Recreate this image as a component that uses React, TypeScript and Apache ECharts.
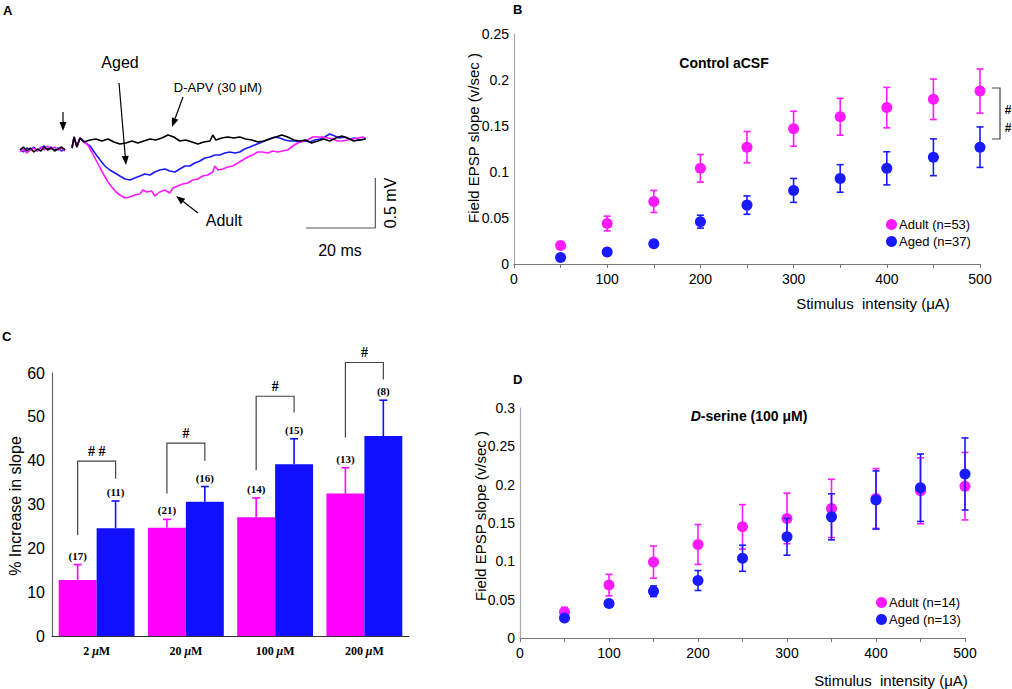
import React, { useEffect, useRef } from "react";
import * as echarts from "echarts";

// ---------- Panel A: field EPSP traces (time ms, voltage mV) ----------
const preBlack: number[][] = [[0,-0.08],[1,-0.05],[2,-0.09],[3,-0.06],[4,-0.1],[5,-0.07],[6,-0.09],[7,-0.05],[8,-0.08],[9,-0.06],[10,-0.09],[11,-0.07],[12,-0.05],[13,-0.08]];
const preBlue: number[][] = [[0,-0.07],[1,-0.1],[2,-0.06],[3,-0.08],[4,-0.05],[5,-0.09],[6,-0.06],[7,-0.04],[8,-0.07],[9,-0.05],[10,-0.08],[11,-0.06],[12,-0.09],[13,-0.07]];
const preAdult: number[][] = [[0,-0.1],[1,-0.07],[2,-0.11],[3,-0.08],[4,-0.06],[5,-0.09],[6,-0.05],[7,-0.08],[8,-0.04],[9,-0.07],[10,-0.05],[11,-0.08],[12,-0.06],[13,-0.09]];

const apvTrace: number[][] = [[15,-0.06],[15.6,0.05],[16.4,-0.05],[17.3,0.04],[18.4,0],[20.2,0.02],[21.9,0.03],[23.6,0.01],[25.4,0.03],[27.1,0],[28.8,-0.02],[30.5,-0.01],[32.3,0.01],[34,-0.01],[35.7,0.01],[37.5,0.03],[39.2,0.02],[40.9,0.04],[42.7,0.07],[44.4,0.05],[46.1,0.01],[47.8,0.02],[49.6,0],[51.3,-0.02],[53,0],[54.8,0.01],[55.6,0.07],[56.5,0.02],[58.2,0.04],[59.9,0.05],[61.7,0.04],[63.4,0.05],[65.1,0.03],[66.9,0.02],[68.6,0],[70.3,0.01],[72,0.03],[73.8,0.05],[75.5,0.07],[77.2,0.05],[79,0.02],[80.7,0.01],[82.4,0.02],[84.1,-0.01],[85.9,0.01],[87.6,0.03],[89.3,0.01],[91.1,0.04],[92.8,0.06],[94.5,0.04],[96.3,0.01],[98,0.02],[99.7,0.03]];
const agedTrace: number[][] = [[15,-0.06],[15.6,0.05],[16.4,-0.05],[17.3,0.04],[18.4,0.01],[19.3,-0.02],[20.2,-0.04],[21.6,-0.11],[23.1,-0.18],[24.5,-0.24],[25.9,-0.28],[27.4,-0.31],[28.8,-0.34],[30.3,-0.37],[31.7,-0.38],[33.1,-0.36],[34.6,-0.34],[36,-0.32],[37.5,-0.33],[38.9,-0.3],[40.3,-0.28],[41.8,-0.27],[43.2,-0.29],[44.7,-0.3],[46.1,-0.27],[47.6,-0.24],[49,-0.24],[50.4,-0.21],[51.9,-0.19],[53.3,-0.16],[54.8,-0.15],[56.2,-0.13],[57.6,-0.13],[59.1,-0.11],[60.5,-0.1],[62,-0.11],[63.4,-0.1],[64.8,-0.07],[66.3,-0.05],[67.7,-0.03],[69.2,-0.01],[70.6,0.01],[72,0.03],[73.5,0.05],[74.9,0.04],[76.4,0.02],[77.8,0.01],[79.3,0.01],[80.7,0],[82.1,0.01],[83.6,0],[85,0.02],[86.5,0.03],[87.9,0.05],[89.3,0.08],[90.8,0.06],[92.2,0.04],[93.7,0.05],[95.1,0.03],[96.5,0.04],[98,0.02],[99.7,0.03]];
const adultTrace: number[][] = [[15,-0.06],[15.6,0.05],[16.4,-0.05],[17.3,0.04],[18.4,0],[19.6,-0.03],[20.7,-0.1],[21.9,-0.18],[23.1,-0.26],[24.2,-0.33],[25.4,-0.4],[26.5,-0.45],[27.7,-0.5],[28.8,-0.53],[30.3,-0.56],[31.7,-0.55],[33.1,-0.53],[34.6,-0.52],[35.4,-0.48],[36.6,-0.5],[38,-0.49],[38.9,-0.54],[40.3,-0.5],[41.8,-0.48],[43.2,-0.51],[44.1,-0.46],[45.5,-0.44],[46.9,-0.42],[48.4,-0.41],[49.8,-0.38],[51.3,-0.37],[52.7,-0.34],[54.2,-0.33],[55.6,-0.3],[56.2,-0.24],[57.1,-0.28],[58.5,-0.27],[59.9,-0.25],[61.4,-0.24],[62.8,-0.21],[64.3,-0.18],[65.7,-0.15],[67.1,-0.13],[68.6,-0.1],[70,-0.1],[71.5,-0.11],[72.9,-0.09],[74.4,-0.1],[75.8,-0.09],[77.2,-0.08],[78.7,-0.04],[80.1,-0.01],[81.6,0.01],[83,0.02],[84.4,0.05],[85.9,0.05],[87.3,0.05],[88.8,0.04],[90.2,0.03],[91.6,0.01],[93.1,0.01],[94.5,0.02],[96,0.03],[97.4,0.04],[98.8,0.05],[99.7,0.04]];
// scale bar: 20 ms horizontal, 0.5 mV vertical
const scaleBar: number[][] = [[82.5,-0.86],[102.5,-0.86],[102.5,-0.36]];

// ---------- Panels B & D: input-output curves ----------
const stimulus = [50, 100, 150, 200, 250, 300, 350, 400, 450, 500];
const ctrlAdultMean = [0.020, 0.044, 0.068, 0.104, 0.127, 0.147, 0.160, 0.170, 0.179, 0.188];
const ctrlAdultSem = [0.003, 0.008, 0.012, 0.015, 0.017, 0.019, 0.020, 0.022, 0.022, 0.024];
const ctrlAgedMean = [0.007, 0.013, 0.022, 0.046, 0.064, 0.080, 0.093, 0.104, 0.116, 0.127];
const ctrlAgedSem = [0.002, 0.002, 0.002, 0.007, 0.010, 0.013, 0.015, 0.018, 0.020, 0.022];
const dserAdultMean = [0.034, 0.069, 0.099, 0.122, 0.145, 0.156, 0.169, 0.182, 0.192, 0.198];
const dserAdultSem = [0.006, 0.014, 0.021, 0.026, 0.029, 0.033, 0.038, 0.039, 0.043, 0.044];
const dserAgedMean = [0.026, 0.045, 0.061, 0.075, 0.104, 0.132, 0.158, 0.180, 0.196, 0.214];
const dserAgedSem = [0.003, 0.003, 0.007, 0.013, 0.017, 0.024, 0.030, 0.038, 0.044, 0.047];

// ---------- Panel C: % increase in slope ----------
const concentrations = ["2 μM", "20 μM", "100 μM", "200 μM"];
const pctAdult = [12.8, 24.7, 27.1, 32.5];
const pctAdultErr = [3.5, 1.9, 4.4, 5.9];
const pctAged = [24.6, 30.6, 39.2, 45.6];
const pctAgedErr = [6.2, 3.5, 5.8, 8.2];
const nAdult = ["(17)", "(21)", "(14)", "(13)"];
const nAged = ["(11)", "(16)", "(15)", "(8)"];
const bracketLeftLow = [23, 32.5, 37.8, 45.3];
const bracketTop = [39.9, 44, 54.7, 62.4];
const bracketRightLow = [35.9, 40, 51, 58.5];
const sigLabels = ["# #", "#", "#", "#"];

const MAG = "#ff1aff";
const BLU = "#1a1aff";
const SANS = 'Arial, "Liberation Sans", Helvetica, sans-serif';
const SERIF = '"Times New Roman", "Liberation Serif", serif';

function errRender(color: string) {
  return (params: any, api: any) => {
    const x = api.value(0), m = api.value(1), e = api.value(2);
    const t = api.coord([x, m + e]);
    const b = api.coord([x, m - e]);
    const st = { stroke: color, lineWidth: 1.6 };
    return {
      type: "group",
      children: [
        { type: "line", shape: { x1: t[0], y1: t[1], x2: b[0], y2: b[1] }, style: st },
        { type: "line", shape: { x1: t[0] - 3.5, y1: t[1], x2: t[0] + 3.5, y2: t[1] }, style: st },
        { type: "line", shape: { x1: b[0] - 3.5, y1: b[1], x2: b[0] + 3.5, y2: b[1] }, style: st },
      ],
    };
  };
}

function barErrRender(color: string, side: number, labels: string[]) {
  return (params: any, api: any) => {
    const idx = api.value(0), m = api.value(1), e = api.value(2);
    const band = api.size([1, 0])[0];
    const off = side * band * 0.2125;
    const base = api.coord([idx, m]);
    const top = api.coord([idx, m + e]);
    const x = base[0] + off;
    const st = { stroke: color, lineWidth: 1.6 };
    return {
      type: "group",
      children: [
        { type: "line", shape: { x1: x, y1: base[1], x2: x, y2: top[1] }, style: st },
        { type: "line", shape: { x1: x - 4, y1: top[1], x2: x + 4, y2: top[1] }, style: st },
        {
          type: "text",
          x, y: top[1] - 9,
          style: { text: labels[params.dataIndex], fontFamily: SERIF, fontWeight: "bold", fontSize: 11, fill: "#000", align: "center", verticalAlign: "middle" },
        },
      ],
    };
  };
}

function bracketRender(params: any, api: any) {
  const idx = api.value(0);
  const band = api.size([1, 0])[0];
  const c = api.coord([idx, api.value(2)]);
  const xl = c[0] - band * 0.2125;
  const xr = c[0] + band * 0.2125;
  const yl = api.coord([idx, api.value(1)])[1];
  const yt = c[1];
  const yr = api.coord([idx, api.value(3)])[1];
  return {
    type: "group",
    children: [
      { type: "polyline", shape: { points: [[xl, yl], [xl, yt], [xr, yt], [xr, yr]] }, style: { stroke: "#444", lineWidth: 1.2, fill: "none" } },
      { type: "text", x: (xl + xr) / 2, y: yt - 10, style: { text: sigLabels[params.dataIndex], fontFamily: SERIF, fontWeight: "bold", fontSize: 14, fill: "#000", align: "center", verticalAlign: "middle" } },
    ],
  };
}

function arrow(x1: number, y1: number, x2: number, y2: number, head = 9, half = 3.5) {
  const dx = x2 - x1, dy = y2 - y1;
  const L = Math.hypot(dx, dy);
  const ux = dx / L, uy = dy / L;
  const bx = x2 - ux * head, by = y2 - uy * head;
  return [
    { type: "line", shape: { x1, y1, x2: bx, y2: by }, style: { stroke: "#000", lineWidth: 1.2 } },
    { type: "polygon", shape: { points: [[x2, y2], [bx - uy * half, by + ux * half], [bx + uy * half, by - ux * half]] }, style: { fill: "#000" } },
  ];
}

function txt(text: string, x: number, y: number, size: number, opts: any = {}) {
  return {
    type: "text", x, y, rotation: opts.rotation || 0,
    style: {
      text, fontFamily: opts.family || SANS, fontSize: size, fontWeight: opts.weight || "normal",
      fill: "#000", align: opts.align || "center", verticalAlign: "middle", rich: opts.rich,
    },
  };
}

function ioAxes(gridIndex: number, ymax: number) {
  const xAxis = {
    type: "value", gridIndex, min: 0, max: 500, interval: 50,
    axisLine: { lineStyle: { color: "#777", width: 1.2 } },
    axisTick: { show: true, length: 4, lineStyle: { color: "#777" } },
    axisLabel: { color: "#000", fontFamily: SANS, fontSize: 14, margin: 8, formatter: (v: number) => (v % 100 === 0 ? String(v) : "") },
    splitLine: { show: false },
  };
  const yAxis = {
    type: "value", gridIndex, min: 0, max: ymax, interval: 0.05,
    axisLine: { show: true, lineStyle: { color: "#aaa", width: 1.2 } },
    axisTick: { show: false },
    axisLabel: { color: "#000", fontFamily: SANS, fontSize: 14, margin: 5 },
    splitLine: { show: false },
  };
  return { xAxis, yAxis };
}

function ioSeries(axisIndex: number, names: string[], am: number[], ae: number[], gm: number[], ge: number[]) {
  const mk = (m: number[], e: number[]) => stimulus.map((s, i) => [s, m[i], e[i]]);
  return [
    { type: "custom", xAxisIndex: axisIndex, yAxisIndex: axisIndex, renderItem: errRender(MAG), data: mk(am, ae), z: 2, clip: false, silent: true },
    { type: "scatter", name: names[0], xAxisIndex: axisIndex, yAxisIndex: axisIndex, data: stimulus.map((s, i) => [s, am[i]]), symbolSize: 11, itemStyle: { color: MAG, opacity: 1 }, z: 3 },
    { type: "custom", xAxisIndex: axisIndex, yAxisIndex: axisIndex, renderItem: errRender(BLU), data: mk(gm, ge), z: 4, clip: false, silent: true },
    { type: "scatter", name: names[1], xAxisIndex: axisIndex, yAxisIndex: axisIndex, data: stimulus.map((s, i) => [s, gm[i]]), symbolSize: 11, itemStyle: { color: BLU, opacity: 1 }, z: 5 },
  ];
}

export default function App() {
  const ref = useRef<HTMLDivElement>(null);
  useEffect(() => {
    const chart = echarts.init(ref.current!, null, { renderer: "svg" });
    const b = ioAxes(1, 0.25);
    const d = ioAxes(3, 0.3);
    const lineA = (data: number[][], color: string, z: number) => ({
      type: "line", xAxisIndex: 0, yAxisIndex: 0, data, showSymbol: false, symbol: "none",
      lineStyle: { color, width: 1.6 }, z, silent: true,
    });
    const option: any = {
      animation: false,
      backgroundColor: "#fff",
      grid: [
        { left: 20, top: 107, width: 364, height: 125 },
        { left: 514, top: 34, width: 466, height: 230 },
        { left: 52, top: 373, width: 357, height: 263 },
        { left: 520, top: 408, width: 445, height: 230 },
      ],
      xAxis: [
        { type: "value", gridIndex: 0, min: 0, max: 105, show: false },
        b.xAxis,
        {
          type: "category", gridIndex: 2, data: concentrations,
          axisLine: { lineStyle: { color: "#333", width: 1.2 } },
          axisTick: { show: false },
          axisLabel: {
            margin: 9, interval: 0,
            formatter: (v: string) => `{n|${v.split(" ")[0]} }{mu|μ}{n|M}`,
            rich: {
              n: { fontFamily: SERIF, fontWeight: "bold", fontSize: 12, color: "#000" },
              mu: { fontFamily: SERIF, fontWeight: "bold", fontStyle: "italic", fontSize: 12, color: "#000" },
            },
          },
        },
        d.xAxis,
      ],
      yAxis: [
        { type: "value", gridIndex: 0, min: -0.9, max: 0.35, show: false },
        b.yAxis,
        {
          type: "value", gridIndex: 2, min: 0, max: 60, interval: 10,
          axisLine: { show: true, lineStyle: { color: "#666", width: 1.2 } },
          axisTick: { show: false },
          axisLabel: { color: "#000", fontFamily: SANS, fontSize: 16, margin: 7 },
          splitLine: { show: false },
        },
        d.yAxis,
      ],
      legend: [
        {
          data: ["Adult (n=53)", "Aged (n=37)"], left: 886, top: 218, orient: "vertical", icon: "circle",
          itemWidth: 11, itemHeight: 11, itemGap: 4, padding: 0,
          textStyle: { fontFamily: SANS, fontSize: 13, color: "#000", padding: [0, 0, 0, -3] },
        },
        {
          data: ["Adult (n=14)", "Aged (n=13)"], left: 876, top: 596, orient: "vertical", icon: "circle",
          itemWidth: 11, itemHeight: 11, itemGap: 4, padding: 0,
          textStyle: { fontFamily: SANS, fontSize: 13, color: "#000", padding: [0, 0, 0, -3] },
        },
      ],
      series: [
        lineA(preBlue, BLU, 1), lineA(preAdult, MAG, 1), lineA(preBlack, "#000", 1),
        lineA(agedTrace, BLU, 2), lineA(adultTrace, MAG, 3), lineA(apvTrace, "#000", 4),
        { type: "line", xAxisIndex: 0, yAxisIndex: 0, data: scaleBar, symbol: "none", lineStyle: { color: "#555", width: 1.2 }, silent: true },
        ...ioSeries(1, ["Adult (n=53)", "Aged (n=37)"], ctrlAdultMean, ctrlAdultSem, ctrlAgedMean, ctrlAgedSem),
        ...ioSeries(3, ["Adult (n=14)", "Aged (n=13)"], dserAdultMean, dserAdultSem, dserAgedMean, dserAgedSem),
        {
          type: "bar", name: "Adult", xAxisIndex: 2, yAxisIndex: 2, data: pctAdult,
          barGap: "0%", barCategoryGap: "15%", itemStyle: { color: "#ff00ff" },
        },
        {
          type: "bar", name: "Aged", xAxisIndex: 2, yAxisIndex: 2, data: pctAged,
          barGap: "0%", barCategoryGap: "15%", itemStyle: { color: "#1010ff" },
        },
        { type: "custom", xAxisIndex: 2, yAxisIndex: 2, renderItem: barErrRender("#ff00ff", -1, nAdult), data: pctAdult.map((v, i) => [i, v, pctAdultErr[i]]), clip: false, z: 5, silent: true },
        { type: "custom", xAxisIndex: 2, yAxisIndex: 2, renderItem: barErrRender("#1010ff", 1, nAged), data: pctAged.map((v, i) => [i, v, pctAgedErr[i]]), clip: false, z: 5, silent: true },
        { type: "custom", xAxisIndex: 2, yAxisIndex: 2, renderItem: bracketRender, data: bracketTop.map((v, i) => [i, bracketLeftLow[i], v, bracketRightLow[i]]), clip: false, z: 5, silent: true },
      ],
      graphic: [
        // panel letters
        txt("A", 3, 10, 13, { weight: "bold", align: "left" }),
        txt("B", 513, 9, 13, { weight: "bold", align: "left" }),
        txt("C", 2, 336, 13, { weight: "bold", align: "left" }),
        txt("D", 513, 379, 13, { weight: "bold", align: "left" }),
        // panel A annotations
        txt("Aged", 120, 62, 16),
        txt("D-APV (30 μM)", 218, 87, 13),
        txt("Adult", 224, 220, 16),
        txt("0.5 mV", 390, 203, 16, { rotation: Math.PI / 2 }),
        txt("20 ms", 340, 250, 16),
        ...arrow(63, 112, 63, 131),
        ...arrow(119, 83, 126, 165),
        ...arrow(183, 97, 172, 127),
        ...arrow(198, 213, 176, 196),
        // panel B texts
        txt("Control aCSF", 724, 63, 14, { weight: "bold" }),
        txt("Field EPSP slope (v/sec )", 473, 138, 15, { rotation: Math.PI / 2 }),
        txt("Stimulus  intensity (μA)", 873, 303, 15),
        { type: "polyline", shape: { points: [[992, 88], [1000, 88], [1000, 139], [992, 139]] }, style: { stroke: "#444", lineWidth: 1.2, fill: "none" } },
        txt("#", 1008, 110, 12, { weight: "bold" }),
        txt("#", 1008, 128, 12, { weight: "bold" }),
        // panel C texts
        txt("% Increase in slope", 15, 506, 16, { rotation: Math.PI / 2 }),
        // panel D texts
        txt("{i|D}-serine (100 μM)", 749, 416, 14, {
          weight: "bold",
          rich: { i: { fontFamily: SANS, fontSize: 14, fontWeight: "bold", fontStyle: "italic" } },
        }),
        txt("Field EPSP slope (v/sec )", 480, 516, 15, { rotation: Math.PI / 2 }),
        txt("Stimulus  intensity (μA)", 891, 680, 15),
      ],
    };
    chart.setOption(option);
    return () => chart.dispose();
  }, []);
  return <div ref={ref} style={{ position: "fixed", left: 0, top: 0, width: 1012, height: 689, background: "#fff" }} />;
}
